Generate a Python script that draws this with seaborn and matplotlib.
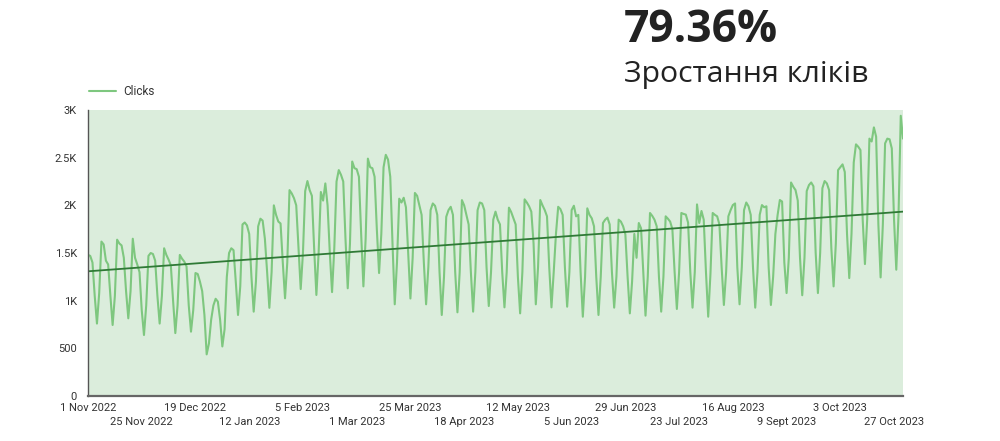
import numpy as np
import pandas as pd
import matplotlib
matplotlib.use("Agg")
import matplotlib.pyplot as plt
import seaborn as sns

# Daily clicks, 1 Nov 2022 (Tue) .. 31 Oct 2023, one row per Mon-Sun week
clicks_w00 = [1480, 1470, 1400, 1050, 760, 1080]
clicks_w01 = [1620, 1590, 1420, 1380, 1050, 745, 1050]
clicks_w02 = [1640, 1600, 1580, 1450, 1100, 815, 1100]
clicks_w03 = [1650, 1450, 1380, 1300, 900, 640, 950]
clicks_w04 = [1470, 1500, 1490, 1420, 1050, 760, 1050]
clicks_w05 = [1550, 1480, 1430, 1370, 1000, 660, 950]
clicks_w06 = [1480, 1440, 1410, 1360, 950, 675, 900]
clicks_w07 = [1290, 1280, 1200, 1100, 850, 437, 550]
clicks_w08 = [800, 950, 1020, 990, 800, 520, 700]
clicks_w09 = [1250, 1500, 1550, 1530, 1200, 850, 1150]
clicks_w10 = [1800, 1820, 1790, 1700, 1250, 885, 1200]
clicks_w11 = [1780, 1860, 1840, 1650, 1300, 925, 1300]
clicks_w12 = [2000, 1900, 1830, 1810, 1400, 1025, 1400]
clicks_w13 = [2160, 2125, 2075, 2000, 1550, 1122, 1500]
clicks_w14 = [2150, 2255, 2160, 2100, 1550, 1060, 1500]
clicks_w15 = [2140, 2050, 2230, 2000, 1500, 1090, 1550]
clicks_w16 = [2250, 2370, 2320, 2250, 1650, 1130, 1600]
clicks_w17 = [2460, 2390, 2380, 2300, 1700, 1150, 1650]
clicks_w18 = [2490, 2400, 2390, 2300, 1750, 1290, 1700]
clicks_w19 = [2400, 2530, 2480, 2300, 1600, 962, 1400]
clicks_w20 = [2070, 2030, 2080, 1980, 1500, 1023, 1450]
clicks_w21 = [2130, 2100, 2000, 1900, 1400, 962, 1350]
clicks_w22 = [1950, 2020, 1995, 1900, 1300, 850, 1250]
clicks_w23 = [1880, 1950, 1985, 1900, 1300, 878, 1300]
clicks_w24 = [2055, 2000, 1900, 1800, 1300, 885, 1300]
clicks_w25 = [1950, 2030, 2020, 1950, 1350, 944, 1300]
clicks_w26 = [1850, 1934, 1850, 1800, 1300, 930, 1300]
clicks_w27 = [1976, 1930, 1864, 1800, 1250, 867, 1300]
clicks_w28 = [2063, 2030, 1990, 1934, 1600, 962, 1350]
clicks_w29 = [2056, 2000, 1950, 1885, 1350, 930, 1300]
clicks_w30 = [1700, 1985, 1960, 1900, 1350, 937, 1300]
clicks_w31 = [1950, 1996, 1885, 1900, 1300, 832, 1250]
clicks_w32 = [1969, 1900, 1864, 1780, 1250, 850, 1250]
clicks_w33 = [1815, 1850, 1871, 1800, 1300, 927, 1250]
clicks_w34 = [1850, 1830, 1780, 1696, 1250, 867, 1200]
clicks_w35 = [1700, 1450, 1815, 1760, 1300, 843, 1250]
clicks_w36 = [1920, 1890, 1850, 1780, 1250, 885, 1250]
clicks_w37 = [1885, 1860, 1830, 1750, 1300, 913, 1300]
clicks_w38 = [1920, 1910, 1903, 1820, 1300, 927, 1300]
clicks_w39 = [2010, 1815, 1941, 1850, 1300, 832, 1280]
clicks_w40 = [1920, 1900, 1885, 1800, 1350, 955, 1300]
clicks_w41 = [1885, 1950, 2003, 2020, 1350, 962, 1350]
clicks_w42 = [1950, 2030, 1990, 1900, 1350, 927, 1300]
clicks_w43 = [1900, 2003, 1980, 1990, 1350, 955, 1250]
clicks_w44 = [1700, 1900, 2056, 2040, 1400, 1080, 1450]
clicks_w45 = [2240, 2195, 2160, 2050, 1450, 1057, 1450]
clicks_w46 = [2150, 2213, 2240, 2200, 1500, 1080, 1500]
clicks_w47 = [2180, 2255, 2230, 2160, 1550, 1150, 1600]
clicks_w48 = [2370, 2400, 2430, 2350, 1700, 1237, 1700]
clicks_w49 = [2450, 2640, 2615, 2580, 1850, 1384, 1850]
clicks_w50 = [2700, 2670, 2818, 2720, 1800, 1244, 1800]
clicks_w51 = [2650, 2700, 2693, 2597, 1850, 1325, 1900]
clicks_w52 = [2940, 2700]

weeks = [clicks_w00, clicks_w01, clicks_w02, clicks_w03, clicks_w04, clicks_w05,
         clicks_w06, clicks_w07, clicks_w08, clicks_w09, clicks_w10, clicks_w11,
         clicks_w12, clicks_w13, clicks_w14, clicks_w15, clicks_w16, clicks_w17,
         clicks_w18, clicks_w19, clicks_w20, clicks_w21, clicks_w22, clicks_w23,
         clicks_w24, clicks_w25, clicks_w26, clicks_w27, clicks_w28, clicks_w29,
         clicks_w30, clicks_w31, clicks_w32, clicks_w33, clicks_w34, clicks_w35,
         clicks_w36, clicks_w37, clicks_w38, clicks_w39, clicks_w40, clicks_w41,
         clicks_w42, clicks_w43, clicks_w44, clicks_w45, clicks_w46, clicks_w47,
         clicks_w48, clicks_w49, clicks_w50, clicks_w51, clicks_w52]
clicks = [v for w in weeks for v in w]

start_date = "2022-11-01"
x_tick_labels = ["1 Nov 2022", "25 Nov 2022", "19 Dec 2022", "12 Jan 2023",
                 "5 Feb 2023", "1 Mar 2023", "25 Mar 2023", "18 Apr 2023",
                 "12 May 2023", "5 Jun 2023", "29 Jun 2023", "23 Jul 2023",
                 "16 Aug 2023", "9 Sept 2023", "3 Oct 2023", "27 Oct 2023"]
y_ticks = [0, 500, 1000, 1500, 2000, 2500, 3000]
y_tick_labels = ["0", "500", "1K", "1.5K", "2K", "2.5K", "3K"]
headline = "79.36%"
subtitle = "Зростання кліків"
series_name = "Clicks"

dates = pd.date_range(start_date, periods=len(clicks), freq="D")
df = pd.DataFrame({"date": dates, "day": np.arange(len(clicks)), "Clicks": clicks})

sns.set_theme(style="white")
plt.rcParams["font.family"] = ["Roboto", "DejaVu Sans"]

fig = plt.figure(figsize=(10, 4.41), dpi=100)
ax = fig.add_axes([0.088, 0.102, 0.815, 0.6485])
ax.set_facecolor("#dbeddc")

sns.lineplot(data=df, x="day", y="Clicks", ax=ax, color="#7ec77f", linewidth=1.5,
             label=series_name)
sns.regplot(data=df, x="day", y="Clicks", ax=ax, scatter=False, ci=None,
            truncate=True, line_kws={"color": "#2f7a36", "linewidth": 1.3})

ax.set_xlim(0, len(clicks) - 1)
ax.set_ylim(0, 3000)
start_ts = pd.Timestamp(start_date)
tick_pos = [(pd.Timestamp(start_ts + pd.Timedelta(days=24 * i)) - start_ts).days
            for i in range(len(x_tick_labels))]
# two staggered rows: even labels on major ticks, odd labels on minor ticks
ax.set_xticks(tick_pos[0::2])
ax.set_xticklabels(x_tick_labels[0::2], fontsize=8, color="#333333")
ax.set_xticks(tick_pos[1::2], minor=True)
ax.set_xticklabels(x_tick_labels[1::2], minor=True, fontsize=8, color="#333333")
ax.set_yticks(y_ticks)
ax.set_yticklabels(y_tick_labels, fontsize=8, color="#333333")
ax.tick_params(axis="x", which="major", length=0, pad=5)
ax.tick_params(axis="x", which="minor", length=0, pad=15)
ax.tick_params(axis="y", length=0, pad=8)
ax.set_xlabel("")
ax.set_ylabel("")
for s in ["top", "right"]:
    ax.spines[s].set_visible(False)
ax.spines["left"].set_color("#555555")
ax.spines["left"].set_linewidth(1.0)
ax.spines["bottom"].set_color("#666666")
ax.spines["bottom"].set_linewidth(1.6)

leg = ax.legend(loc="lower left", bbox_to_anchor=(-0.005, 1.025), frameon=False,
                fontsize=8.5, handlelength=2.3, handletextpad=0.6, borderaxespad=0)
for t in leg.get_texts():
    t.set_color("#333333")

fig.text(0.624, 0.905, headline, fontsize=32, fontweight="bold", color="#222222",
         family=["Open Sans", "DejaVu Sans"])
fig.text(0.624, 0.813, subtitle, fontsize=21.8, color="#222222",
         family=["Open Sans", "DejaVu Sans"])

fig.savefig("out.png", dpi=100)
